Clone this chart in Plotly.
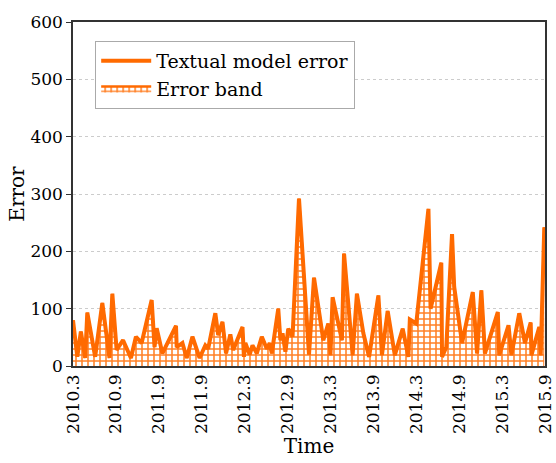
import plotly.graph_objects as go

# month offset from 2010.3 (fractional)
months = [0.0, 0.6, 1.1, 1.7, 2.0, 3.1, 4.1, 5.1, 5.5, 6.1, 7.0, 8.1, 8.8, 9.6,
          11.0, 11.4, 11.7, 12.5, 14.4, 14.5, 15.3, 15.9, 16.7, 17.7, 18.5, 18.9,
          19.9, 20.3, 20.9, 21.4, 22.0, 22.4, 23.7, 23.9, 24.1, 24.7, 25.1, 25.7,
          26.4, 27.1, 27.5, 27.8, 28.7, 29.0, 29.3, 29.7, 30.1, 30.7, 31.6, 33.0,
          33.7, 35.0, 35.7, 36.0, 36.3, 37.6, 37.9, 39.1, 39.7, 40.6, 41.4, 42.7,
          43.2, 44.0, 45.0, 46.1, 46.9, 47.1, 48.0, 49.7, 50.0, 51.5, 51.6, 52.2,
          53.0, 53.3, 54.4, 55.9, 56.5, 57.1, 57.6, 59.4, 59.6, 60.9, 61.3, 62.4,
          63.2, 64.0, 64.1, 65.2, 65.4, 65.9]
errors = [80, 16, 60, 14, 93, 16, 110, 14, 126, 28, 45, 14, 51, 40,
          115, 33, 66, 22, 70, 33, 40, 14, 51, 14, 36, 30,
          92, 54, 77, 22, 55, 28, 68, 16, 40, 20, 36, 22,
          51, 30, 40, 22, 100, 45, 57, 25, 65, 51, 292, 20,
          154, 45, 74, 19, 120, 45, 196, 19, 126, 57, 16, 123,
          19, 96, 19, 65, 16, 81, 74, 274, 100, 180, 16, 33,
          230, 138, 40, 129, 22, 132, 22, 94, 19, 71, 19, 92,
          40, 76, 19, 68, 19, 242]

tick_vals = [0, 6, 12, 18, 24, 30, 36, 42, 48, 54, 60, 66]
tick_labels = ['2010.3', '2010.9', '2011.9', '2011.9', '2012.3', '2012.9',
               '2013.3', '2013.9', '2014.3', '2014.9', '2015.3', '2015.9']

orange = '#FF6A00'
font_family = 'DejaVu Serif'

fig = go.Figure()
fig.add_trace(go.Scatter(
    x=months, y=errors, mode='lines', name='Error band',
    line=dict(width=2.5, color=orange), fill='tozeroy', fillcolor='rgba(0,0,0,0)',
    fillpattern=dict(shape='+', fgcolor=orange, bgcolor='white', size=6,
                     solidity=0.45, fgopacity=0.85),
    legendrank=2, hoverinfo='skip'))
fig.add_trace(go.Scatter(
    x=months, y=errors, mode='lines', name='Textual model error',
    line=dict(width=4, color=orange), legendrank=1))

fig.update_layout(
    width=556, height=463,
    margin=dict(l=73, r=11, t=22, b=97, autoexpand=False),
    paper_bgcolor='white', plot_bgcolor='white',
    font=dict(family=font_family, size=17, color='black'),
    showlegend=True,
    legend=dict(x=0.047, y=0.945, xanchor='left', yanchor='top',
                bordercolor='#aaaaaa', borderwidth=1, bgcolor='white',
                font=dict(size=19, family=font_family),
                tracegroupgap=0, itemwidth=50),
    xaxis=dict(range=[0, 66], tickmode='array', tickvals=tick_vals,
               ticktext=tick_labels, tickangle=-90, showgrid=False,
               showline=True, linecolor='#333333', linewidth=1.5, mirror=True,
               ticks='', zeroline=False, automargin=False,
               tickfont=dict(family=font_family, size=17),
               title=dict(text='Time', font=dict(size=20, family=font_family), standoff=5)),
    yaxis=dict(range=[0, 600], tickvals=[0, 100, 200, 300, 400, 500, 600],
               showgrid=True, gridcolor='#cccccc', griddash='dot', gridwidth=1,
               showline=True, linecolor='#333333', linewidth=1.5, mirror=True,
               ticks='outside', ticklen=5, tickcolor='#333333', zeroline=False,
               automargin=False,
               tickfont=dict(family=font_family, size=17),
               title=dict(text='Error', font=dict(size=20, family=font_family), standoff=0)),
)

fig.write_html('out.html', config={'displayModeBar': False},
               post_script="document.body.style.margin='0';")
